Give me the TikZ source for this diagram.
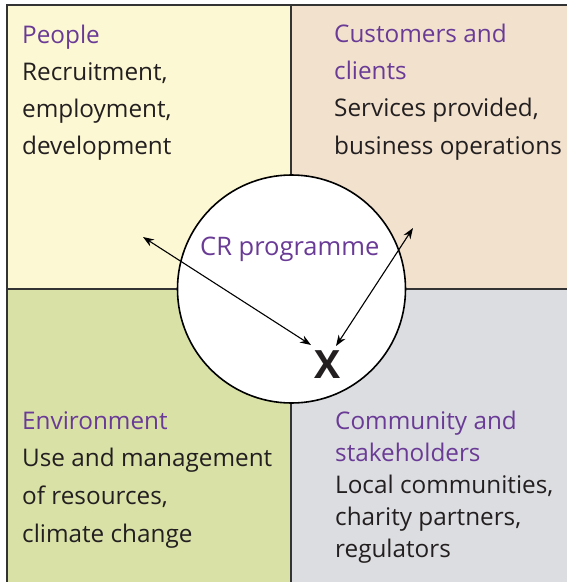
\documentclass[tikz,border=0pt]{standalone}
\usepackage{fontspec}
\setmainfont{Open Sans}
\usetikzlibrary{arrows.meta}
\definecolor{cpurple}{HTML}{6A3B96}
\definecolor{ctext}{HTML}{231F20}
\definecolor{qyellow}{HTML}{FCF8D3}
\definecolor{qbeige}{HTML}{F1E1CD}
\definecolor{qgreen}{HTML}{D9E1A7}
\definecolor{qgray}{HTML}{DCDDE0}
\definecolor{rulecol}{HTML}{333333}
\begin{document}
\begin{tikzpicture}[x=1pt,y=-1pt,
  rulestyle/.style={draw=rulecol,line width=2pt},
  quadtext/.style={anchor=base west,align=left,inner sep=0pt,text=ctext},
  linkarrow/.style={line width=1.1pt,{Stealth[length=11pt,width=8pt]}-{Stealth[length=11pt,width=8pt]}}]
\useasboundingbox (0,0) rectangle (567,582);
\fill[white] (0,0) rectangle (567,582);
% quadrants
\fill[qyellow] (7,5) rectangle (291,289);
\fill[qbeige] (291,5) rectangle (567,289);
\fill[qgreen] (7,289) rectangle (291,582);
\fill[qgray] (291,289) rectangle (567,582);
\draw[rulestyle] (7,582) -- (7,5) -- (567,5);
\draw[rulestyle] (291,5) -- (291,582);
\draw[rulestyle] (7,289) -- (567,289);
% circle
\node[circle,draw=black,line width=1.6pt,fill=white,minimum size=228pt,inner sep=0pt] (cr) at (291.5,289) {};
% texts (anchored at the baseline of the last line)
\node[quadtext,font=\fontsize{24.3}{37}\selectfont] (people) at (22,154)
  {\textcolor{cpurple}{People}\\Recruitment,\\employment,\\development};
\node[quadtext,font=\fontsize{24.3}{37.3}\selectfont] (customers) at (334,154)
  {\textcolor{cpurple}{Customers and}\\\textcolor{cpurple}{clients}\\Services provided,\\business operations};
\node[quadtext,font=\fontsize{24.3}{37.6}\selectfont] (environment) at (22,542)
  {\textcolor{cpurple}{Environment}\\Use and management\\of resources,\\climate change};
\node[quadtext,font=\fontsize{24.3}{32}\selectfont] (community) at (335,557)
  {\textcolor{cpurple}{Community and}\\\textcolor{cpurple}{stakeholders}\\Local communities,\\charity partners,\\regulators};
\node[anchor=base west,inner sep=0pt,text=cpurple,font=\fontsize{25.5}{30}\selectfont] (crlabel) at (200,255) {CR programme};
\node[inner sep=0pt,text=ctext,font=\fontsize{39}{40}\selectfont\bfseries] (x) at (328,364.5) {X};
% arrows
\coordinate (pA) at (143,237);
\coordinate (pB) at (311,345);
\coordinate (cA) at (413,228);
\coordinate (cB) at (336,346);
\draw[linkarrow] (pA) -- (pB);
\draw[linkarrow] (cA) -- (cB);
\end{tikzpicture}
\end{document}
